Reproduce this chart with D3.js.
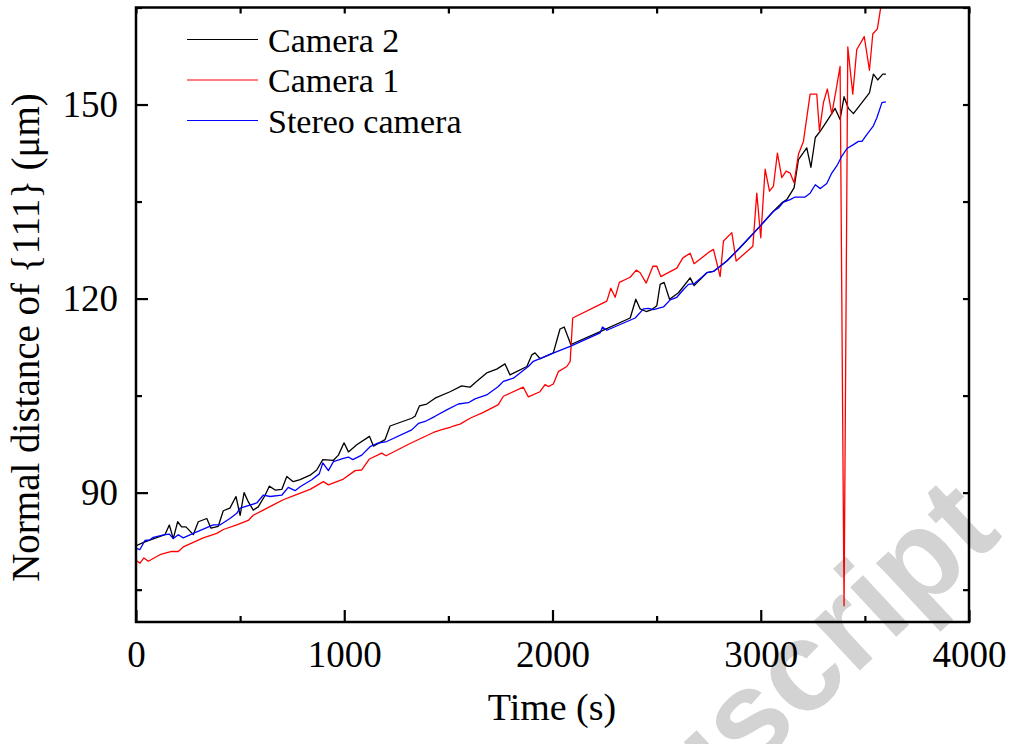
<!DOCTYPE html>
<html>
<head>
<meta charset="utf-8">
<script src="https://cdn.jsdelivr.net/npm/d3@7"></script>
<style>
  body { margin: 0; background: #fff; }
  svg { display: block; }
</style>
</head>
<body>
<svg id="chart" width="1014" height="744"></svg>
<script>
// time (s) / normal distance (um)
const cam2Time = [0, 43, 139, 160, 179, 200, 219, 240, 275, 299, 340, 360, 395, 419, 451, 480, 500, 519, 539, 563, 587, 620, 640, 668, 700, 724, 755, 788, 836, 868, 897, 948, 972, 999, 1020, 1060, 1121, 1140, 1196, 1220, 1324, 1340, 1361, 1396, 1436, 1508, 1564, 1585, 1604, 1628, 1684, 1732, 1772, 1796, 1877, 1901, 1916, 1941, 2004, 2036, 2056, 2088, 2229, 2373, 2400, 2421, 2450, 2477, 2501, 2517, 2536, 2562, 2605, 2661, 2680, 2741, 2773, 2837, 2901, 2997, 3061, 3101, 3125, 3160, 3181, 3221, 3241, 3262, 3286, 3317, 3357, 3381, 3400, 3421, 3445, 3522, 3541, 3562, 3586, 3601]
const cam2Val = [81.8, 82.4, 83.5, 85.0, 82.9, 85.5, 84.7, 84.7, 83.5, 85.5, 86.0, 84.5, 84.8, 87.2, 87.6, 89.4, 86.5, 90.0, 88.6, 87.3, 87.8, 89.6, 91.0, 90.4, 90.5, 92.5, 91.7, 92.0, 92.7, 93.5, 95.1, 95.0, 95.8, 97.7, 96.3, 97.4, 98.7, 97.2, 98.2, 100.3, 101.5, 101.8, 103.4, 103.7, 104.6, 105.6, 106.5, 106.4, 106.3, 107.0, 108.5, 109.1, 109.9, 108.2, 109.5, 111.3, 111.6, 110.7, 111.6, 115.3, 115.6, 112.9, 114.9, 117.0, 119.9, 118.4, 118.0, 118.3, 118.9, 122.2, 122.5, 119.9, 120.9, 123.2, 122.0, 124.0, 124.2, 125.8, 127.9, 131.2, 133.5, 134.8, 135.3, 137.1, 141.5, 143.3, 140.3, 144.9, 145.9, 147.4, 149.4, 147.7, 151.2, 149.4, 148.6, 151.8, 154.7, 153.8, 154.7, 154.7]

const cam1Time = [0, 19, 38, 59, 115, 171, 203, 227, 323, 388, 419, 484, 539, 563, 611, 659, 707, 755, 836, 900, 924, 996, 1052, 1084, 1121, 1180, 1201, 1316, 1428, 1476, 1508, 1524, 1556, 1604, 1668, 1740, 1764, 1860, 1884, 1940, 1964, 1980, 2004, 2028, 2069, 2085, 2097, 2229, 2261, 2280, 2301, 2321, 2373, 2402, 2421, 2450, 2482, 2501, 2520, 2597, 2626, 2661, 2680, 2757, 2773, 2805, 2821, 2861, 2882, 2962, 2981, 3000, 3021, 3042, 3061, 3080, 3101, 3122, 3141, 3160, 3181, 3205, 3237, 3269, 3282, 3301, 3320, 3341, 3362, 3381, 3400, 3418, 3442, 3461, 3497, 3522, 3538, 3560, 3577, 3593]
const cam1Val = [79.5, 79.1, 79.9, 79.4, 80.4, 80.9, 80.9, 81.6, 83.0, 83.7, 84.3, 85.0, 85.7, 86.5, 87.3, 88.1, 88.9, 89.5, 90.5, 91.7, 91.2, 92.1, 93.4, 93.5, 95.2, 96.1, 95.7, 97.6, 99.3, 99.8, 100.1, 100.3, 100.6, 101.5, 102.4, 103.6, 104.9, 106.3, 104.8, 105.6, 106.7, 106.4, 106.8, 108.7, 109.5, 110.3, 117.0, 119.1, 119.6, 121.6, 120.2, 122.5, 123.3, 124.4, 124.0, 122.4, 125.0, 125.0, 123.4, 124.7, 126.3, 127.0, 125.4, 127.3, 127.6, 123.4, 128.9, 130.2, 125.8, 128.1, 136.3, 129.4, 140.0, 136.6, 137.4, 142.5, 138.7, 139.7, 139.4, 137.9, 142.3, 144.3, 151.6, 151.6, 145.9, 150.3, 152.4, 148.5, 152.3, 155.9, 72.5, 158.9, 151.6, 158.5, 160.5, 155.3, 160.9, 161.7, 165.2, 167.5]

const stereoTime = [0, 19, 43, 67, 83, 139, 160, 179, 203, 227, 275, 371, 403, 451, 484, 500, 580, 611, 644, 700, 731, 764, 788, 844, 880, 897, 924, 948, 996, 1020, 1041, 1084, 1124, 1156, 1204, 1324, 1356, 1388, 1436, 1492, 1548, 1596, 1628, 1684, 1740, 1764, 1812, 1884, 1908, 2021, 2085, 2229, 2240, 2261, 2397, 2437, 2461, 2485, 2533, 2565, 2597, 2629, 2653, 2680, 2717, 2741, 2773, 2837, 2901, 2997, 3061, 3085, 3109, 3141, 3165, 3213, 3237, 3262, 3286, 3317, 3341, 3365, 3389, 3414, 3445, 3469, 3486, 3510, 3541, 3558, 3582, 3601]
const stereoVal = [81.4, 81.2, 82.6, 82.7, 83.1, 83.5, 83.6, 82.9, 83.5, 83.0, 83.7, 85.0, 85.0, 86.0, 86.8, 87.6, 88.4, 89.6, 89.4, 89.6, 90.8, 90.3, 90.9, 92.0, 92.9, 94.6, 93.4, 94.8, 95.3, 95.5, 95.1, 95.8, 97.1, 97.6, 97.9, 99.7, 100.7, 101.0, 101.8, 102.8, 103.7, 103.9, 104.5, 105.1, 106.4, 107.2, 107.7, 109.5, 110.3, 111.8, 112.6, 114.7, 115.6, 115.1, 117.0, 118.4, 118.5, 118.3, 118.7, 119.8, 120.2, 121.4, 122.2, 122.3, 123.3, 124.0, 124.2, 125.8, 127.9, 131.2, 133.5, 134.0, 134.9, 135.3, 135.7, 135.7, 136.3, 137.6, 137.0, 137.8, 139.4, 140.5, 142.0, 143.2, 143.8, 144.3, 144.3, 145.4, 146.7, 148.0, 150.3, 150.4]

const seriesNames = ["Camera 2", "Camera 1", "Stereo camera"]
const seriesColors = ["#000000", "#ff0000", "#0000ff"]
const xTicks = [0, 1000, 2000, 3000, 4000]
const xMinor = [500, 1500, 2500, 3500]
const yTicks = [90, 120, 150]
const yMinor = [75, 105, 135, 165]

const svg = d3.select("#chart")
const font = "'Liberation Serif', 'Times New Roman', serif"

const plotL = 136, plotR = 969, plotT = 7.5, plotB = 622

const x = d3.scaleLinear().domain([0, 4000]).range([plotL, plotR])
const y = d3.scaleLinear().domain([70, 165]).range([plotB, plotT])

// faint watermark behind everything
svg.append("text")
  .attr("transform", "translate(1004,536) rotate(-43)")
  .attr("text-anchor", "end")
  .attr("font-family", "'Liberation Sans', Arial, sans-serif")
  .attr("font-weight", "bold")
  .attr("font-size", 128)
  .attr("fill", "#d3d3d3")
  .text("Accepted Manuscript")

svg.append("clipPath").attr("id", "plotclip")
  .append("rect")
  .attr("x", plotL).attr("y", plotT)
  .attr("width", plotR - plotL).attr("height", plotB - plotT)

const series = [
  cam2Time.map((t, i) => [t, cam2Val[i]]),
  cam1Time.map((t, i) => [t, cam1Val[i]]),
  stereoTime.map((t, i) => [t, stereoVal[i]])
]

const line = d3.line().x(d => x(d[0])).y(d => y(d[1]))

svg.append("g")
  .attr("clip-path", "url(#plotclip)")
  .selectAll("path")
  .data(series)
  .enter()
  .append("path")
  .attr("d", line)
  .attr("fill", "none")
  .attr("stroke", (d, i) => seriesColors[i])
  .attr("stroke-width", 1.3)
  .attr("stroke-linejoin", "round")

// axes, ticks pointing inward on all four sides
function styleAxis(g) {
  g.select(".domain").remove()
  g.selectAll(".tick line").attr("stroke", "#000").attr("stroke-width", 2.2)
  g.selectAll("text")
    .attr("font-family", font)
    .attr("font-size", 37)
    .attr("fill", "#000")
}

svg.append("g")
  .attr("transform", "translate(0," + plotB + ")")
  .call(d3.axisBottom(x).tickValues(xTicks).tickFormat(d3.format("d"))
    .tickSizeInner(-12).tickSizeOuter(0).tickPadding(19))
  .call(styleAxis)

svg.append("g")
  .attr("transform", "translate(0," + plotB + ")")
  .call(d3.axisBottom(x).tickValues(xMinor).tickSize(-6).tickFormat(""))
  .call(styleAxis)

svg.append("g")
  .attr("transform", "translate(0," + plotT + ")")
  .call(d3.axisTop(x).tickValues(xTicks.concat(xMinor)).tickSize(-6).tickFormat(""))
  .call(styleAxis)

svg.append("g")
  .attr("transform", "translate(" + plotL + ",0)")
  .call(d3.axisLeft(y).tickValues(yTicks).tickSizeInner(-12).tickSizeOuter(0).tickPadding(18))
  .call(styleAxis)

svg.append("g")
  .attr("transform", "translate(" + plotL + ",0)")
  .call(d3.axisLeft(y).tickValues(yMinor).tickSize(-6).tickFormat(""))
  .call(styleAxis)

svg.append("g")
  .attr("transform", "translate(" + plotR + ",0)")
  .call(d3.axisRight(y).tickValues(yTicks.concat(yMinor)).tickSize(-6).tickFormat(""))
  .call(styleAxis)

svg.append("rect")
  .attr("x", plotL).attr("y", plotT)
  .attr("width", plotR - plotL).attr("height", plotB - plotT)
  .attr("fill", "none")
  .attr("stroke", "#000")
  .attr("stroke-width", 2.5)

// legend
const legend = svg.append("g")
  .selectAll("g")
  .data(seriesNames)
  .enter()
  .append("g")
  .attr("transform", (d, i) => "translate(187," + (39.5 + i * 40.5) + ")")

legend.append("line")
  .attr("x1", 0).attr("x2", 71)
  .attr("stroke", (d, i) => seriesColors[i])
  .attr("stroke-width", 1.2)

legend.append("text")
  .attr("x", 81)
  .attr("y", 12)
  .attr("font-family", font)
  .attr("font-size", 34)
  .text(d => d)

// axis titles
svg.append("text")
  .attr("x", (plotL + plotR) / 2 - 0.5)
  .attr("y", 720)
  .attr("text-anchor", "middle")
  .attr("font-family", font)
  .attr("font-size", 38)
  .text("Time (s)")

svg.append("text")
  .attr("transform", "translate(38.5,337.5) rotate(-90)")
  .attr("text-anchor", "middle")
  .attr("font-family", font)
  .attr("font-size", 39)
  .text("Normal distance of {111} (μm)")
</script>
</body>
</html>
